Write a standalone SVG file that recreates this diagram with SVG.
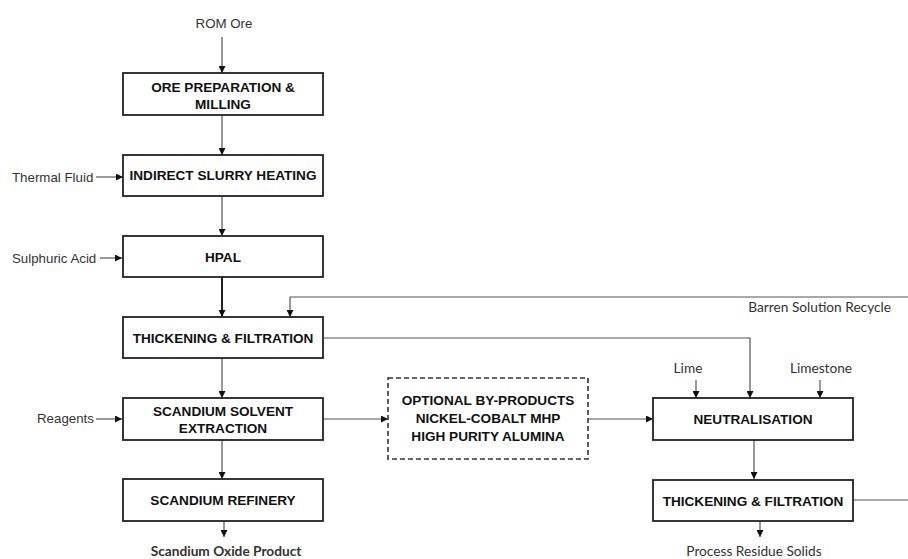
<svg xmlns="http://www.w3.org/2000/svg" width="908" height="559" viewBox="0 0 908 559">
<style>
.box{fill:#fff;stroke:#222;stroke-width:1.8}
.dash{fill:#fff;stroke:#333;stroke-width:1.6;stroke-dasharray:5 3}
.bt{font-family:"Liberation Sans",Arial,sans-serif;font-weight:bold;font-size:13.6px;fill:#111;text-anchor:middle}
.lb{font-family:"Liberation Sans",Arial,sans-serif;font-size:13.3px;fill:#333}
.cb{font-family:Lato,"Liberation Sans",sans-serif;font-size:13.7px;fill:#333}
.ln{fill:none;stroke:#555;stroke-width:1.2}
</style>
<defs>
<marker id="ah" viewBox="0 0 10 10" refX="10" refY="5" markerWidth="7" markerHeight="7" markerUnits="userSpaceOnUse" orient="auto">
<path d="M0,0 L10,5 L0,10 Z" fill="#111"/>
</marker>
</defs>
<rect width="908" height="559" fill="#fff"/>

<g id="connectors">
<path class="ln" d="M222,37 V73" marker-end="url(#ah)"/>
<path class="ln" d="M222,115 V155" marker-end="url(#ah)"/>
<path class="ln" d="M96,177 H123" marker-end="url(#ah)"/>
<path class="ln" d="M222,196 V236" marker-end="url(#ah)"/>
<path class="ln" d="M100,258 H122" marker-end="url(#ah)"/>
<path class="ln" d="M222,277 V317" style="stroke-width:2;stroke:#222" marker-end="url(#ah)"/>
<path class="ln" d="M908,297 H290 V317" marker-end="url(#ah)"/>
<path class="ln" d="M323,338 H750 V398" marker-end="url(#ah)"/>
<path class="ln" d="M222,358 V398" marker-end="url(#ah)"/>
<path class="ln" d="M96,419 H122" marker-end="url(#ah)"/>
<path class="ln" d="M323,419 H388" marker-end="url(#ah)"/>
<path class="ln" d="M222,440 V479" marker-end="url(#ah)"/>
<path class="ln" d="M224,521 V537" marker-end="url(#ah)"/>
<path class="ln" d="M588,419 H653" marker-end="url(#ah)"/>
<path class="ln" d="M696,380 V398" marker-end="url(#ah)"/>
<path class="ln" d="M820,380 V398" marker-end="url(#ah)"/>
<path class="ln" d="M754,440 V479" marker-end="url(#ah)"/>
<path class="ln" d="M853,500 H908"/>
<path class="ln" d="M760,521 V537" marker-end="url(#ah)"/>
</g>

<g id="labels">
<text class="lb" x="224" y="28" text-anchor="middle">ROM Ore</text>
<text class="lb" x="12" y="182">Thermal Fluid</text>
<text class="lb" x="12" y="263">Sulphuric Acid</text>
<text class="lb" x="37" y="423">Reagents</text>
<text class="cb" x="891" y="312" text-anchor="end">Barren Solution Recycle</text>
<text class="cb" x="688" y="373" text-anchor="middle">Lime</text>
<text class="cb" x="821" y="373" text-anchor="middle">Limestone</text>
<text class="cb" x="226" y="556" text-anchor="middle" font-weight="bold">Scandium Oxide Product</text>
<text class="cb" x="754" y="556" text-anchor="middle">Process Residue Solids</text>
</g>

<g id="ore-prep"><rect class="box" x="123" y="73" width="200" height="42"/><text class="bt" x="223" y="92">ORE PREPARATION &amp;</text><text class="bt" x="223" y="109">MILLING</text></g>
<g id="heating"><rect class="box" x="123" y="155" width="200" height="41"/><text class="bt" x="223" y="180">INDIRECT SLURRY HEATING</text></g>
<g id="hpal"><rect class="box" x="123" y="236" width="200" height="41"/><text class="bt" x="223" y="262">HPAL</text></g>
<g id="thick1"><rect class="box" x="123" y="317" width="200" height="41"/><text class="bt" x="223" y="343">THICKENING &amp; FILTRATION</text></g>
<g id="sx"><rect class="box" x="123" y="398" width="200" height="42"/><text class="bt" x="223" y="416">SCANDIUM SOLVENT</text><text class="bt" x="223" y="433">EXTRACTION</text></g>
<g id="refinery"><rect class="box" x="123" y="479" width="200" height="42"/><text class="bt" x="223" y="505">SCANDIUM REFINERY</text></g>
<g id="optional"><rect class="dash" x="388" y="378" width="200" height="81"/><text class="bt" x="488" y="405">OPTIONAL BY-PRODUCTS</text><text class="bt" x="488" y="423">NICKEL-COBALT MHP</text><text class="bt" x="488" y="441">HIGH PURITY ALUMINA</text></g>
<g id="neutral"><rect class="box" x="653" y="398" width="200" height="42"/><text class="bt" x="753" y="424">NEUTRALISATION</text></g>
<g id="thick2"><rect class="box" x="653" y="480" width="200" height="41"/><text class="bt" x="753" y="506">THICKENING &amp; FILTRATION</text></g>
</svg>
